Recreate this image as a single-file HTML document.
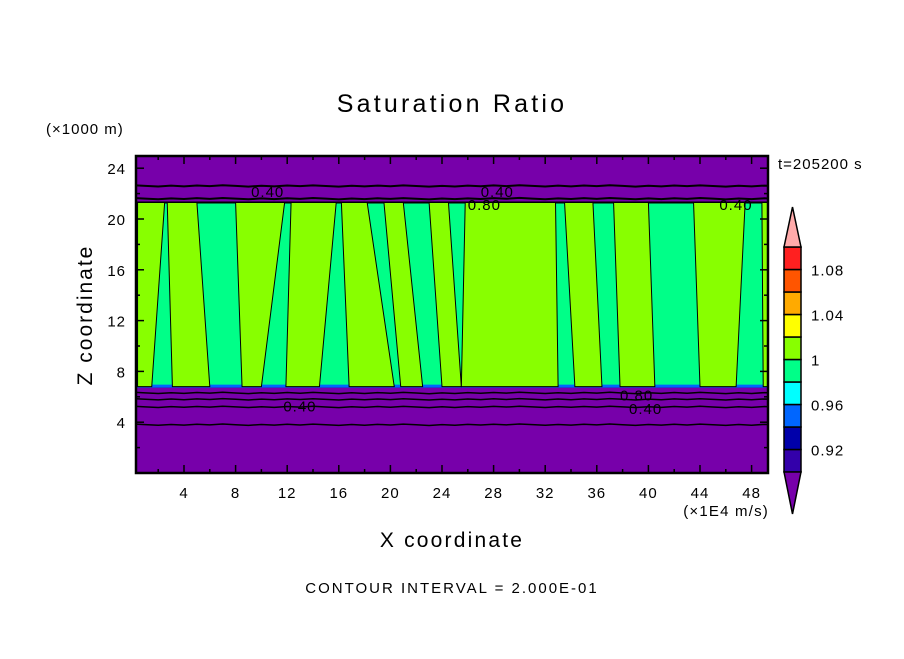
<!DOCTYPE html>
<html><head><meta charset="utf-8"><style>
body{margin:0;background:#fff}
svg text{font-family:"Liberation Sans",sans-serif;fill:#000}
</style></head><body>
<svg id="chart" width="904" height="654" viewBox="0 0 904 654" xmlns="http://www.w3.org/2000/svg">
<rect width="904" height="654" fill="#fff"/>
<g id="plot"></g>
<g id="axes"></g>
<text x="452" y="112" font-size="25" letter-spacing="3.2" text-anchor="middle">Saturation Ratio</text>
<text x="46" y="134" font-size="15" letter-spacing="1">(×1000 m)</text>
<text x="92" y="315" font-size="21" letter-spacing="2" text-anchor="middle" transform="rotate(-90 92 315)">Z coordinate</text>
<text x="452" y="547" font-size="21" letter-spacing="2.2" text-anchor="middle">X coordinate</text>
<text x="769" y="516" font-size="15" letter-spacing="1.2" text-anchor="end">(×1E4 m/s)</text>
<text x="452" y="593" font-size="15" letter-spacing="2" text-anchor="middle">CONTOUR INTERVAL = 2.000E-01</text>
<text x="778" y="169" font-size="15" letter-spacing="1">t=205200 s</text>
<g id="cbar"></g>
</svg>
<script>
const xTicks=[4,8,12,16,20,24,28,32,36,40,44,48];
const yTicks=[4,8,12,16,20,24];
const bandBottom=6.8, bandTop=21.3;
const limeTopX0=[0.4,2.7,8.0,12.3,16.2,19.5,23.0,25.8,33.5,37.3,43.5,48.8];
const limeTopX1=[2.5,5.0,11.8,15.8,18.2,21.0,24.5,32.8,35.7,40.0,47.5,49.3];
const limeBotX0=[0.4,3.1,8.5,11.9,16.8,20.8,24.0,25.5,34.3,37.8,44.0,48.9];
const limeBotX1=[1.5,6.0,10.0,14.5,20.3,22.5,25.5,33.0,36.4,40.5,46.8,49.3];
const contourLevels=[3.8,5.2,5.8,6.3,21.6,22.6];
const contourLabels=["0.40","0.40","0.40","0.80","0.40","0.80","0.40"];
const labelX=[9.2,27.0,45.5,26.0,11.7,37.8,38.5];
const labelZ=[22.2,22.2,21.2,21.2,5.3,6.2,5.1];
const cbarColors=["#3300aa","#0000aa","#0066ff","#00ffff","#00ff88","#88ff00","#ffff00","#ffaa00","#ff5500","#ff2020"];
const cbarLabels=["0.92","0.96","1","1.04","1.08"];

const L=136,R=768,T=156,B=473;
const sx=v=>132.4+12.9*v;
const sz=v=>473-12.7*v;
const NS="http://www.w3.org/2000/svg";
function mk(t,a,p){const e=document.createElementNS(NS,t);for(const k in a)e.setAttribute(k,a[k]);p.appendChild(e);return e;}
const plot=document.getElementById('plot');
const defs=mk('defs',{},plot);
const cp=mk('clipPath',{id:'cl'},defs);mk('rect',{x:L,y:T,width:R-L,height:B-T},cp);
const g=mk('g',{'clip-path':'url(#cl)'},plot);
let e=mk('rect',{x:L,y:T,width:R-L,height:B-T,fill:'#7700aa'},g);

e=mk('rect',{x:L,y:sz(bandTop),width:R-L,height:sz(bandBottom)-sz(bandTop),fill:'#00ff88',stroke:'#000','stroke-width':2},g);

mk('rect',{x:L,y:sz(bandBottom)-2,width:R-L,height:3,fill:'#0066ff'},g);
for(let i=0;i<limeTopX0.length;i++){
 const p=`${sx(limeBotX0[i])},${sz(bandBottom)} ${sx(limeTopX0[i])},${sz(bandTop)} ${sx(limeTopX1[i])},${sz(bandTop)} ${sx(limeBotX1[i])},${sz(bandBottom)}`;
 e=mk('polygon',{points:p,fill:'#88ff00',stroke:'#000','stroke-width':1},g);
 
}
contourLevels.forEach((z,i)=>{
 let d='';for(let x=0;x<=50;x+=1){const w=((x*7.3+i*3)%3-1.5)*0.5;d+=(x?'L':'M')+sx(x)+','+(sz(z)+w);}
 e=mk('path',{d:d,fill:'none',stroke:'#000','stroke-width':i>=4?2:1.5},g);
 
});
contourLabels.forEach((s,i)=>{
 e=mk('text',{x:sx(labelX[i]),y:sz(labelZ[i])+6,'font-size':15,'letter-spacing':1},g);e.textContent=s;
 
});
const ax=document.getElementById('axes');
e=mk('rect',{x:L,y:T,width:R-L,height:B-T,fill:'none',stroke:'#000','stroke-width':2.5},ax);

for(let v=2;v<=48;v+=4){
 mk('line',{x1:sx(v),x2:sx(v),y1:B,y2:B-4,stroke:'#000','stroke-width':1.5},ax);
 mk('line',{x1:sx(v),x2:sx(v),y1:T,y2:T+4,stroke:'#000','stroke-width':1.5},ax);
}
xTicks.forEach(v=>{
 mk('line',{x1:sx(v),x2:sx(v),y1:B,y2:B-8,stroke:'#000','stroke-width':1.5},ax);
 mk('line',{x1:sx(v),x2:sx(v),y1:T,y2:T+8,stroke:'#000','stroke-width':1.5},ax);
 e=mk('text',{x:sx(v),y:B+25,'font-size':15,'text-anchor':'middle','letter-spacing':1},ax);e.textContent=v;
 
});
yTicks.forEach(v=>{
 mk('line',{x1:L,x2:L+8,y1:sz(v),y2:sz(v),stroke:'#000','stroke-width':1.5},ax);
 mk('line',{x1:R,x2:R-8,y1:sz(v),y2:sz(v),stroke:'#000','stroke-width':1.5},ax);
 mk('line',{x1:L,x2:L+4,y1:sz(v-2),y2:sz(v-2),stroke:'#000','stroke-width':1.5},ax);
 mk('line',{x1:R,x2:R-4,y1:sz(v-2),y2:sz(v-2),stroke:'#000','stroke-width':1.5},ax);
 e=mk('text',{x:L-10,y:sz(v)+6,'font-size':15,'text-anchor':'end','letter-spacing':1},ax);e.textContent=v;
 
});
const cb=document.getElementById('cbar');
const cx0=784,cx1=801,cyTop=247,cyBot=472,h=(cyBot-cyTop)/cbarColors.length;
cbarColors.forEach((c,i)=>{
 e=mk('rect',{x:cx0,y:cyBot-(i+1)*h,width:cx1-cx0,height:h,fill:c,stroke:'#000','stroke-width':1.5},cb);
 
});
e=mk('polygon',{points:`${cx0},${cyTop} ${(cx0+cx1)/2},207 ${cx1},${cyTop}`,fill:'#ffaaaa',stroke:'#000','stroke-width':1.5},cb);

e=mk('polygon',{points:`${cx0},${cyBot} ${(cx0+cx1)/2},514 ${cx1},${cyBot}`,fill:'#7700aa',stroke:'#000','stroke-width':1.5},cb);

cbarLabels.forEach((s,i)=>{
 e=mk('text',{x:811,y:cyBot-(2*i+1)*h+6,'font-size':15,'letter-spacing':1},cb);e.textContent=s;
 
});
</script>
</body></html>
